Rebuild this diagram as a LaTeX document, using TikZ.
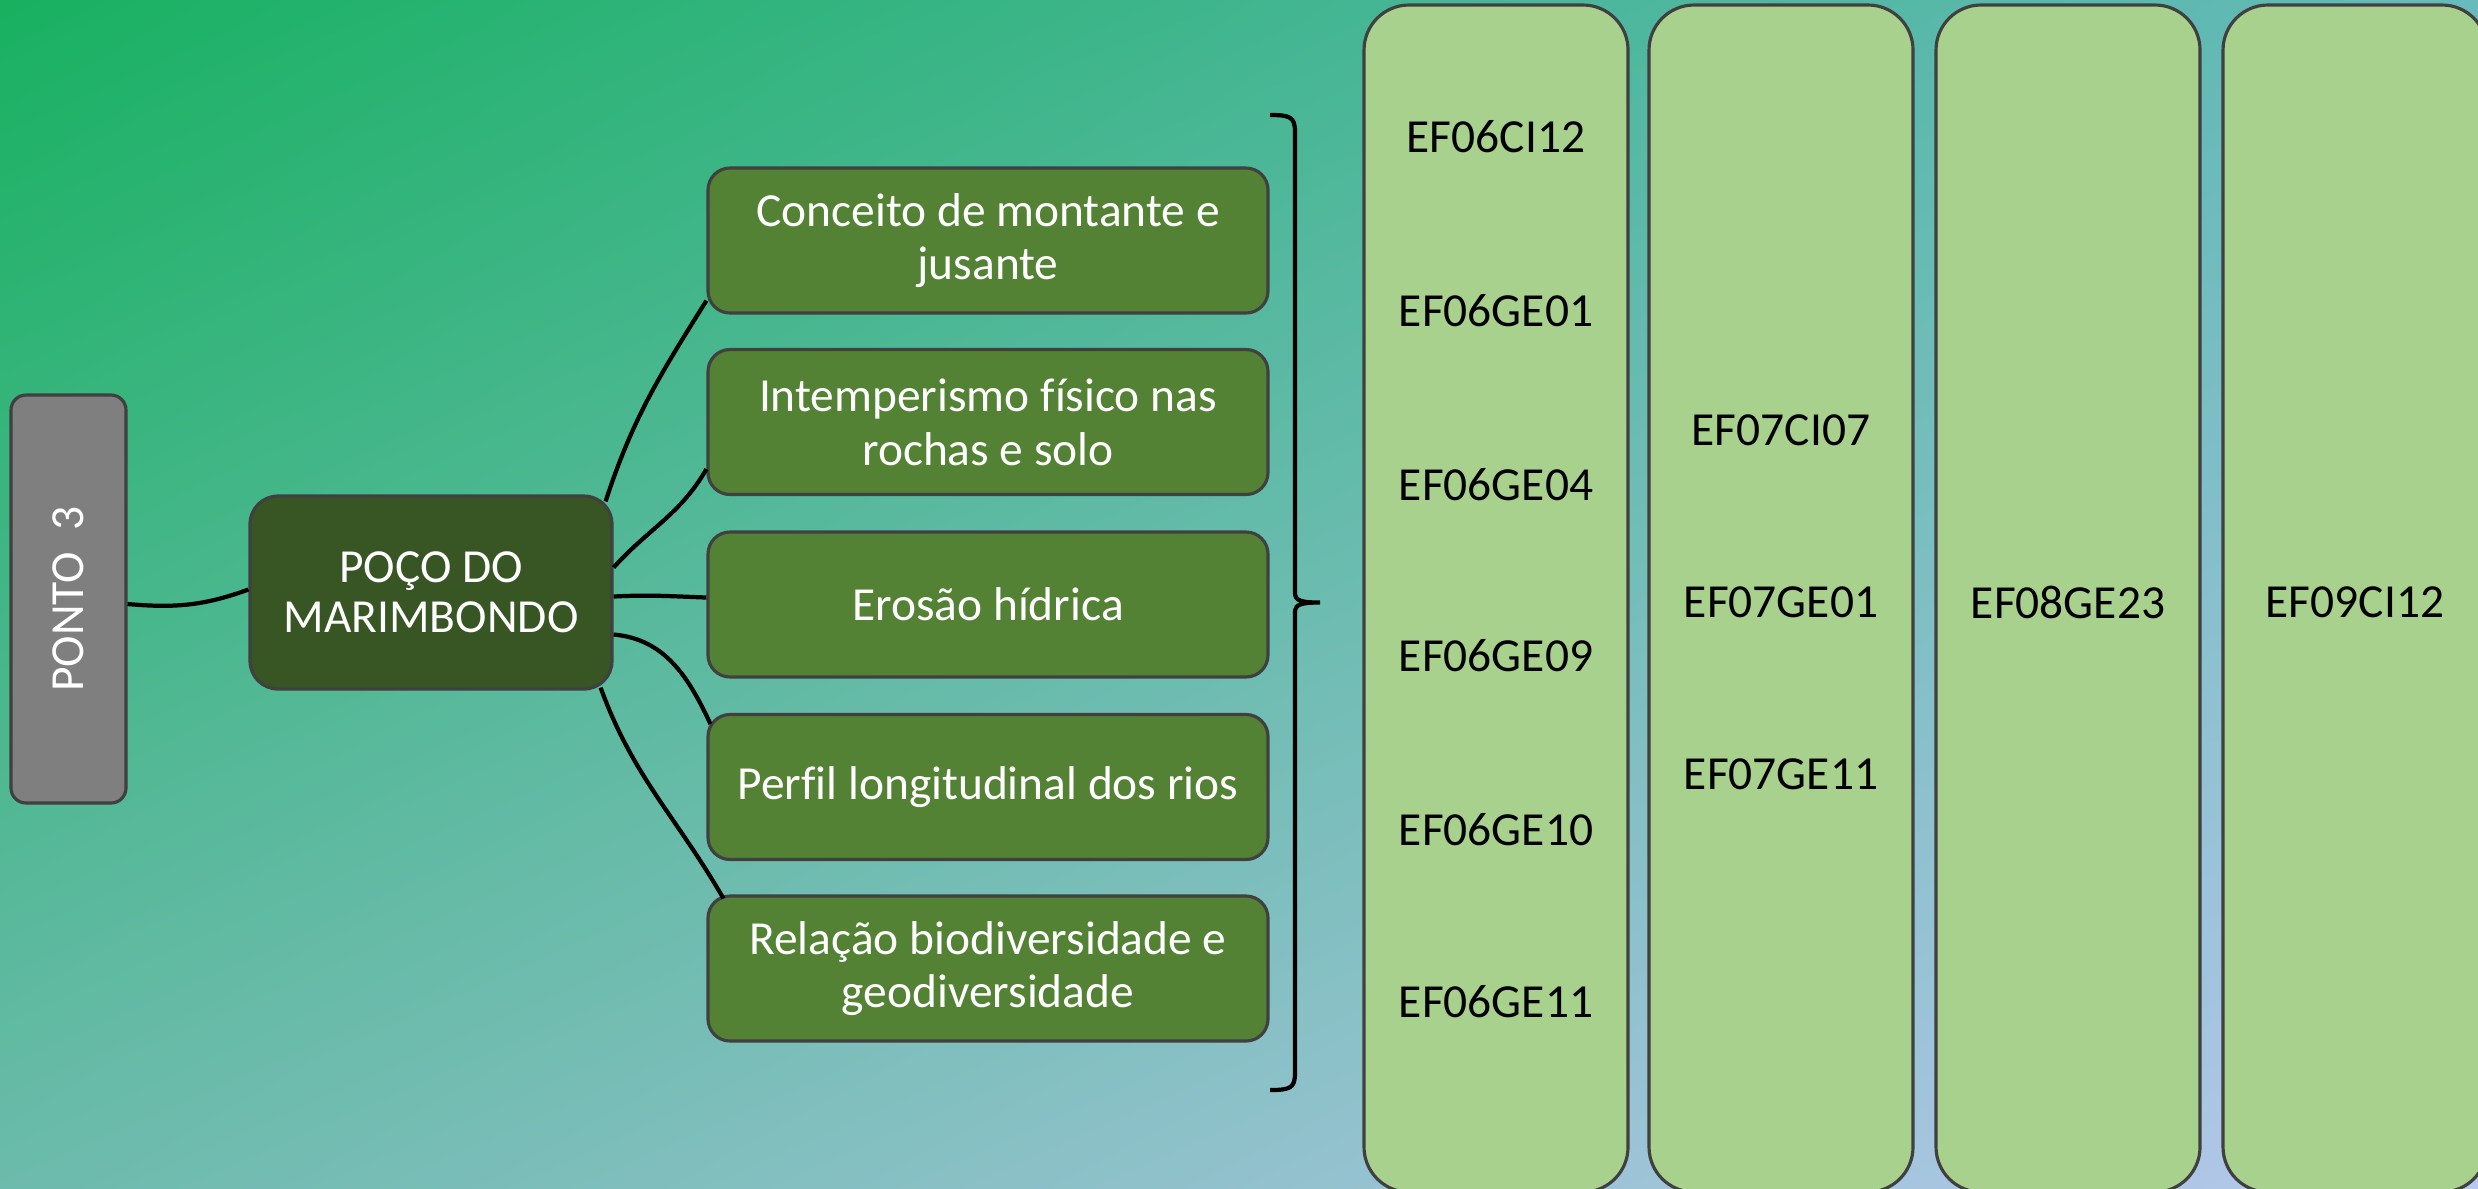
\documentclass[tikz,border=0pt]{standalone}
\usepackage{fontspec}
\setmainfont{Carlito}[Ligatures=CommonOff]
\usetikzlibrary{shadings}

\definecolor{bgul}{RGB}{24,177,96}
\definecolor{bgur}{RGB}{104,186,188}
\definecolor{bgll}{RGB}{108,187,172}
\definecolor{bglr}{RGB}{184,200,238}
\definecolor{rimgray}{RGB}{64,64,64}
\definecolor{pontogray}{RGB}{127,127,127}
\definecolor{pocogreen}{RGB}{55,86,35}
\definecolor{topicgreen}{RGB}{84,130,53}
\definecolor{codegreen}{RGB}{169,209,142}

\begin{document}
\begin{tikzpicture}
          [font=\fontsize{13.5}{15.3}\selectfont,
          ponto/.style={rectangle,rounded corners=0.15cm,draw=rimgray,fill=pontogray,line width=0.9pt,text=white,minimum width=4.08cm,minimum height=1.15cm,rotate=90},
          poco/.style={rectangle,rounded corners=0.28cm,draw=rimgray,fill=pocogreen,line width=0.9pt,text=white,align=center,minimum width=3.62cm,minimum height=1.93cm},
          topic/.style={rectangle,rounded corners=0.22cm,draw=rimgray,fill=topicgreen,line width=0.9pt,text=white,align=center,minimum width=5.6cm,minimum height=1.45cm,inner sep=1pt},
          codes/.style={rectangle,rounded corners=0.45cm,draw=rimgray,fill=codegreen,line width=0.9pt,minimum width=2.64cm,minimum height=11.87cm},
          code/.style={text=black,inner sep=1pt},
          link/.style={line width=1.2pt}]
          \useasboundingbox (0,0) rectangle (24.78,-11.88);
          \clip (0,0) rectangle (24.78,-11.88);
          \shade[upper left=bgul,upper right=bgur,lower left=bgll,lower right=bglr] (0,0) rectangle (24.78,-11.88);
          % \draw[help lines] (0,-12) grid (25,0);
          \node[ponto] (ponto)    at (0.685,-5.99) {PONTO~~3};
          \node[poco]  (poco)     at (4.31,-5.925) {POÇO DO\\[-1pt]MARIMBONDO};
          \node[topic] (conceito) at (9.88,-2.405) {Conceito de montante e\\jusante};
          \node[topic] (intemp)   at (9.88,-4.22)  {Intemperismo físico nas\\rochas e solo};
          \node[topic] (erosao)   at (9.88,-6.045) {Erosão hídrica};
          \node[topic] (perfil)   at (9.88,-7.87)  {Perfil longitudinal dos rios};
          \node[topic] (relacao)  at (9.88,-9.685) {Relação biodiversidade e\\geodiversidade};
          \draw[link] ([yshift=-0.05cm]ponto.south) to[out=-5,in=200] ([yshift=0.03cm]poco.west);
          \draw[link] ([shift={(-0.08,-0.07)}]poco.north east) to[out=72,in=238] ([yshift=0.14cm]conceito.south west);
          \draw[link] ([yshift=0.25cm]poco.east) to[out=48,in=240] ([yshift=0.27cm]intemp.south west);
          \draw[link] ([yshift=-0.04cm]poco.east) to[out=3,in=178] ([yshift=0.07cm]erosao.west);
          \draw[link] ([yshift=-0.42cm]poco.east) to[out=-5,in=115] ([shift={(0.04,-0.11)}]perfil.north west);
          \draw[link] ([shift={(-0.13,0.03)}]poco.south east) to[out=-70,in=120] ([shift={(0.17,-0.04)}]relacao.north west);
          % brace over the five topics
          \coordinate (bracetop) at (12.70,-1.15);
          \coordinate (bracetip) at (13.20,-6.025);
          \coordinate (bracebot) at (12.70,-10.90);
          \draw[link] (bracetop) .. controls (12.90,-1.15) and (12.95,-1.17) .. (12.95,-1.32)
            -- (12.95,-5.93) .. controls (12.95,-6.01) and (13.02,-6.025) .. (bracetip)
            .. controls (13.02,-6.025) and (12.95,-6.04) .. (12.95,-6.12)
            -- (12.95,-10.73) .. controls (12.95,-10.88) and (12.90,-10.90) .. (bracebot);
          \node[codes] (sexto)  at (14.96,-5.985) {};
          \node[codes] (setimo) at (17.81,-5.985) {};
          \node[codes] (oitavo) at (20.68,-5.985) {};
          \node[codes] (nono)   at (23.55,-5.985) {};
          \node[code] (ci0612) at (14.96,-1.37)  {EF06CI12};
          \node[code] (ge0601) at (14.96,-3.11)  {EF06GE01};
          \node[code] (ge0604) at (14.96,-4.85)  {EF06GE04};
          \node[code] (ge0609) at (14.96,-6.56)  {EF06GE09};
          \node[code] (ge0610) at (14.96,-8.30)  {EF06GE10};
          \node[code] (ge0611) at (14.96,-10.02) {EF06GE11};
          \node[code] (ci0707) at (17.81,-4.30)  {EF07CI07};
          \node[code] (ge0701) at (17.81,-6.02)  {EF07GE01};
          \node[code] (ge0711) at (17.81,-7.74)  {EF07GE11};
          \node[code] (ge0823) at (20.68,-6.02)  {EF08GE23};
          \node[code] (ci0912) at (23.55,-6.02)  {EF09CI12};
\end{tikzpicture}
\end{document}
